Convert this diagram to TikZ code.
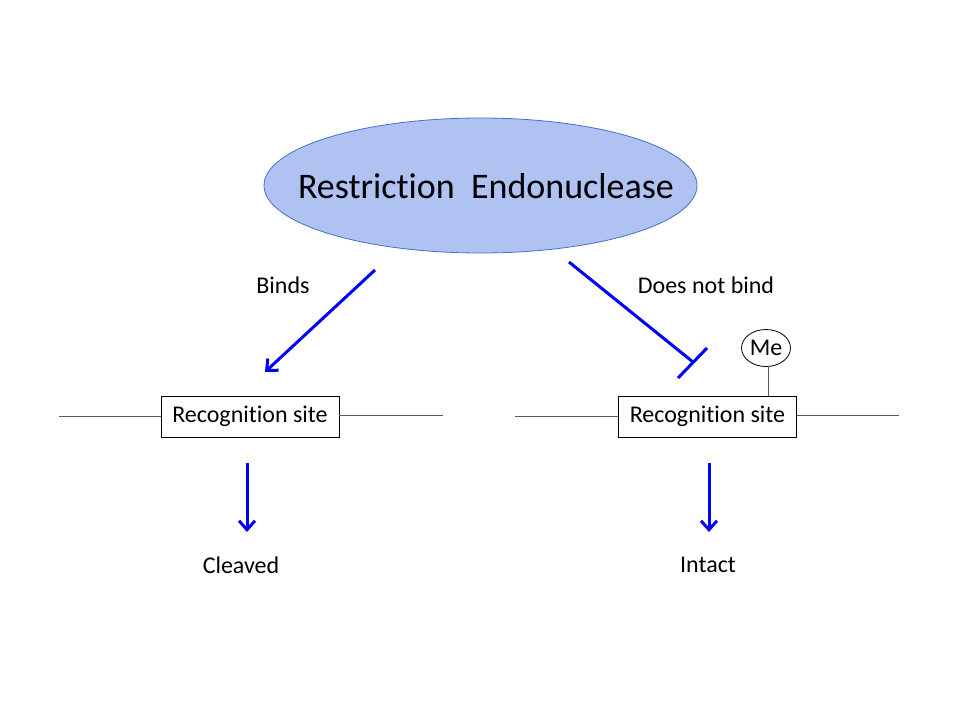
\documentclass[tikz,border=0pt]{standalone}
\usepackage{fontspec}
\setmainfont[Ligatures=NoCommon]{Carlito}
\usetikzlibrary{arrows.meta,shapes.geometric}
\definecolor{ellfill}{RGB}{175,194,242}
\definecolor{ellline}{RGB}{68,114,196}
\definecolor{arrblue}{RGB}{0,0,255}
\definecolor{dnagray}{RGB}{90,90,90}
\tikzset{
  small/.style={font=\fontsize{24}{28}\selectfont, inner sep=0pt},
  sitebox/.style={draw=black, line width=0.9pt, minimum width=178pt, minimum height=41pt, inner sep=0pt, font=\fontsize{24}{28}\selectfont},
  dna/.style={draw=dnagray, line width=0.9pt},
  barrow/.style={draw=arrblue, line width=3pt, -{Straight Barb[length=9pt,width=16pt,line width=3pt]}},
  binhib/.style={draw=arrblue, line width=3pt},
}
\begin{document}
\begin{tikzpicture}[x=1pt,y=-1pt]
\useasboundingbox (0,0) rectangle (960,720);
\fill[white] (0,0) rectangle (960,720);
\node[ellipse, draw=ellline, fill=ellfill, line width=0.8pt, minimum width=433pt, minimum height=135pt, inner sep=0pt] (enz) at (480.5,185.5) {};
\node[font=\fontsize{36}{42}\selectfont, inner sep=0pt] (enzt) at (486,186) {Restriction\ \ Endonuclease};

\node[sitebox] (s1) at (250,416.5) {Recognition site};
\node[sitebox] (s2) at (707.5,416.5) {Recognition site};
\coordinate (l1a) at (59,416);
\coordinate (l1b) at (443,415);
\coordinate (l2a) at (515,416);
\coordinate (l2b) at (899,415);
\draw[dna] (l1a) -- (l1a -| s1.west);
\draw[dna] (s1.east |- l1b) -- (l1b);
\draw[dna] (l2a) -- (l2a -| s2.west);
\draw[dna] (s2.east |- l2b) -- (l2b);

\node[ellipse, draw=black, line width=0.8pt, minimum width=49pt, minimum height=37pt, inner sep=0pt, font=\fontsize{24}{28}\selectfont] (me) at (766,348) {Me};
\coordinate (mes) at (768,366);
\draw[dna] (mes) -- (mes |- s2.north);

\node[small] (binds) at (283,285) {Binds};
\node[small] (dnb) at (706,285) {Does not bind};
\node[small] (cl) at (241,565) {Cleaved};
\node[small] (in) at (708,565) {Intact};

\coordinate (b1) at (375,270);
\coordinate (b2) at (265,372);
\draw[barrow] (b1) -- (b2);

\coordinate (i1) at (569,262);
\coordinate (i2) at (693,362);
\coordinate (ia) at (678,378);
\coordinate (ib) at (707,348);
\draw[binhib] (i1) -- (i2);
\draw[binhib] (ia) -- (ib);

\coordinate (d1a) at (247,463);
\coordinate (d1b) at (247,532);
\coordinate (d2a) at (709,463);
\coordinate (d2b) at (709,532);
\draw[barrow] (d1a) -- (d1b);
\draw[barrow] (d2a) -- (d2b);
\end{tikzpicture}
\end{document}
